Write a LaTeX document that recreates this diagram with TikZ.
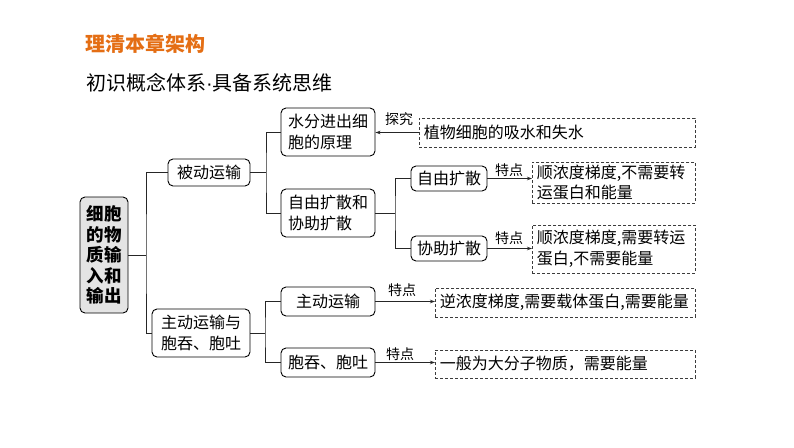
\documentclass[tikz,border=0pt]{standalone}
\usepackage{fontspec}
\setmainfont{Noto Sans CJK SC}
\newfontfamily\latinfont{Liberation Sans}
\usetikzlibrary{arrows.meta}
\definecolor{titleorange}{RGB}{228,110,20}
\definecolor{rootgray}{RGB}{228,228,228}
\definecolor{dashgray}{RGB}{60,60,60}
\tikzset{
  box/.style={draw=black, line width=0.9pt, rounded corners=5pt, inner sep=0pt,
    align=left, font=\fontsize{16}{20.5}\selectfont},
  dbox/.style={draw=dashgray, line width=0.8pt, dash pattern=on 3pt off 2pt,
    inner xsep=4.5pt, inner ysep=0pt, align=left, anchor=west,
    font=\fontsize{16}{20.5}\selectfont},
  conn/.style={line width=0.8pt, draw=black!85},
  arr/.style={conn, -{Stealth[length=5pt,width=3.5pt]}},
  lab/.style={font=\fontsize{14}{15}\selectfont, inner sep=0pt},
}
\begin{document}
\begin{tikzpicture}[x=1pt,y=-1pt]
\useasboundingbox (0,0) rectangle (794,447);
% titles
\node[anchor=west, inner sep=0pt, text=titleorange, font=\fontsize{20}{22}\selectfont\bfseries] (t1) at (85,44) {理清本章架构};
\node[anchor=west, inner sep=0pt, font=\fontsize{20}{22}\selectfont] (t2) at (86,83) {初识概念体系{\latinfont ·}具备系统思维};
% root
\node[box, fill=rootgray, minimum width=48pt, minimum height=116pt, align=center,
  font=\fontsize{17.5}{20.5}\selectfont\bfseries] (root) at (104,255) {细胞\\的物\\质输\\入和\\输出};
% level 1
\node[box, minimum width=82pt, minimum height=27pt] (bd) at (209,172.5) {被动运输};
\node[box, minimum width=98pt, minimum height=48pt] (zd) at (201,333) {主动运输与\\胞吞、胞吐};
% level 2
\node[box, minimum width=94pt, minimum height=48pt] (sf) at (328,132) {水分进出细\\胞的原理};
\node[box, minimum width=94pt, minimum height=48pt] (zx) at (328,213) {自由扩散和\\协助扩散};
\node[box, minimum width=94pt, minimum height=29pt] (zdys) at (328,301.5) {主动运输};
\node[box, minimum width=94pt, minimum height=29pt] (bt) at (328,362.5) {胞吞、胞吐};
% level 3
\node[box, minimum width=76pt, minimum height=25pt] (zy) at (449,178.5) {自由扩散};
\node[box, minimum width=76pt, minimum height=25pt] (xz) at (449,248.5) {协助扩散};
% dashed boxes
\node[dbox, text width=267pt, minimum height=29pt] (d0) at (419,132.5) {植物细胞的吸水和失水};
\node[dbox, text width=154pt, minimum height=41pt] (d1) at (532,182.5) {顺浓度梯度,不需要转\\运蛋白和能量};
\node[dbox, text width=154pt, minimum height=48pt] (d2) at (532,249) {顺浓度梯度,需要转运\\蛋白,不需要能量};
\node[dbox, text width=251pt, minimum height=29pt] (d3) at (435,302.5) {逆浓度梯度,需要载体蛋白,需要能量};
\node[dbox, text width=251pt, minimum height=28pt] (d4) at (435,364) {一般为大分子物质，需要能量};
% junctions
\coordinate (j1) at (146,255);
\coordinate (j2) at (266,172.5);
\coordinate (j3) at (395,213);
\coordinate (j4) at (265,333);
% tree connectors
\draw[conn] (root.east) -- (j1);
\draw[conn] (bd.west) -| (j1) |- (zd.west);
\draw[conn] (bd.east) -- (j2);
\draw[conn] (sf.west) -| (j2) |- (zx.west);
\draw[conn] (zx.east) -- (j3);
\draw[conn] (zy.west) -| (j3) |- (xz.west);
\draw[conn] (zd.east) -- (j4);
\draw[conn] (zdys.west) -| (j4) |- (bt.west);
% arrows
\draw[arr] (d0.west) -- (d0.west -| sf.east);
\draw[arr] (zy.east) -- (zy.east -| d1.west);
\draw[arr] (xz.east) -- (xz.east -| d2.west);
\draw[arr] (zdys.east) -- (zdys.east -| d3.west);
\draw[arr] (bt.east) -- (bt.east -| d4.west);
% labels
\node[lab] (l0) at (399,119) {探究};
\node[lab] (l1) at (509,170) {特点};
\node[lab] (l2) at (509,238) {特点};
\node[lab] (l3) at (402,290) {特点};
\node[lab] (l4) at (400,354) {特点};
\end{tikzpicture}
\end{document}
